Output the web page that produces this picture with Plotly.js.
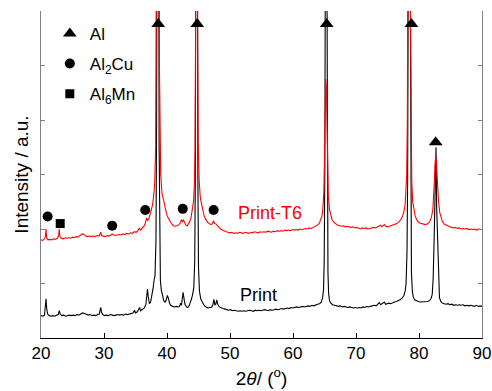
<!DOCTYPE html>
<html>
<head>
<meta charset="utf-8">
<script src="https://cdn.plot.ly/plotly-3.0.1.min.js"></script>
<style>html,body{margin:0;padding:0;background:#fff;}#chart{width:492px;height:391px;}</style>
</head>
<body>
<div id="chart"></div>
<script>
// XRD pattern of "Print" (as-printed)
const printX = [20.0,20.3,20.55,20.7,20.8,20.9,21.05,21.3,21.6,21.9,22.2,22.5,22.75,22.9,23.05,23.3,23.6,23.9,24.2,24.5,24.8,25.1,25.4,25.7,26.0,26.3,26.6,26.9,27.2,27.5,27.8,28.1,28.4,28.7,29.0,29.25,29.4,29.5,29.6,29.8,30.1,30.4,30.7,31.0,31.3,31.6,31.9,32.2,32.5,32.8,33.1,33.4,33.7,34.0,34.3,34.6,34.85,35.0,35.3,35.5,35.65,35.8,36.1,36.4,36.65,36.8,36.9,37.0,37.2,37.4,37.6,37.8,37.95,38.1,38.25,38.35,38.45,38.55,38.65,38.75,38.85,38.95,39.1,39.3,39.5,39.7,39.9,40.05,40.2,40.4,40.6,40.9,41.2,41.5,41.8,42.0,42.15,42.3,42.45,42.55,42.65,42.85,43.1,43.3,43.5,43.7,43.9,44.1,44.25,44.4,44.5,44.6,44.7,44.8,44.9,45.0,45.15,45.35,45.6,45.9,46.2,46.5,46.8,47.1,47.3,47.45,47.6,47.75,47.9,48.05,48.3,48.6,48.9,49.2,49.5,49.8,50.1,50.4,50.7,51.0,51.3,51.6,51.9,52.2,52.5,52.8,53.1,53.4,53.7,54.0,54.3,54.6,54.9,55.2,55.5,55.8,56.1,56.4,56.7,57.0,57.3,57.6,57.9,58.2,58.5,58.8,59.1,59.4,59.7,60.0,60.3,60.6,60.9,61.2,61.5,61.8,62.1,62.4,62.7,63.0,63.3,63.6,63.9,64.2,64.5,64.7,64.85,64.95,65.05,65.15,65.25,65.35,65.45,65.55,65.65,65.8,66.0,66.3,66.6,66.9,67.2,67.5,67.8,68.1,68.4,68.7,69.0,69.3,69.6,69.9,70.2,70.5,70.8,71.1,71.4,71.7,72.0,72.3,72.6,72.9,73.2,73.5,73.7,73.9,74.1,74.3,74.5,74.7,74.9,75.2,75.5,75.8,76.1,76.4,76.7,77.0,77.3,77.6,77.8,77.95,78.1,78.2,78.3,78.4,78.5,78.6,78.7,78.8,78.95,79.1,79.3,79.6,79.9,80.2,80.5,80.8,81.1,81.4,81.7,81.9,82.1,82.25,82.4,82.5,82.6,82.7,82.8,82.9,83.0,83.1,83.25,83.45,83.7,84.0,84.3,84.6,84.9,85.2,85.5,85.8,86.1,86.4,86.7,87.0,87.3,87.6,87.9,88.2,88.5,88.8,89.1,89.4,89.7,90.0];
const printY = [0.41,0.40,0.42,0.55,0.72,0.55,0.44,0.41,0.40,0.41,0.40,0.42,0.43,0.50,0.44,0.41,0.42,0.40,0.41,0.42,0.41,0.42,0.41,0.43,0.42,0.44,0.46,0.45,0.43,0.42,0.43,0.41,0.42,0.41,0.43,0.44,0.52,0.56,0.47,0.43,0.41,0.42,0.41,0.43,0.42,0.41,0.42,0.43,0.42,0.43,0.42,0.44,0.43,0.44,0.45,0.46,0.51,0.46,0.48,0.53,0.56,0.50,0.52,0.55,0.62,0.78,0.90,0.78,0.63,0.66,0.76,0.92,1.06,1.15,1.8,4,10,16,10,3.5,1.6,1.05,0.88,0.74,0.68,0.66,0.70,0.78,0.74,0.64,0.60,0.58,0.57,0.58,0.57,0.58,0.64,0.60,0.70,0.84,0.76,0.62,0.57,0.56,0.59,0.64,0.72,0.82,0.92,1.4,3,9,14,9,3,1.3,0.86,0.72,0.66,0.60,0.57,0.55,0.56,0.57,0.62,0.71,0.61,0.62,0.70,0.62,0.57,0.55,0.54,0.53,0.52,0.51,0.52,0.50,0.51,0.50,0.49,0.50,0.49,0.50,0.49,0.50,0.51,0.50,0.49,0.51,0.50,0.51,0.50,0.51,0.52,0.51,0.50,0.52,0.51,0.52,0.53,0.52,0.53,0.54,0.53,0.54,0.55,0.54,0.56,0.55,0.56,0.57,0.56,0.57,0.58,0.57,0.58,0.59,0.58,0.60,0.59,0.61,0.62,0.63,0.66,0.74,0.9,1.4,3,8,12,8,3,1.2,0.82,0.68,0.64,0.61,0.60,0.59,0.58,0.59,0.57,0.58,0.57,0.56,0.57,0.56,0.55,0.56,0.55,0.56,0.55,0.57,0.56,0.58,0.57,0.58,0.59,0.60,0.59,0.62,0.65,0.61,0.63,0.64,0.66,0.62,0.63,0.64,0.63,0.65,0.66,0.67,0.68,0.70,0.73,0.78,0.86,1.0,1.6,3,7,12,12,7,2.5,1.2,0.85,0.75,0.70,0.68,0.67,0.66,0.66,0.67,0.66,0.67,0.69,0.72,0.80,1.1,1.8,2.6,3.3,3.5,2.4,2.05,1.5,0.95,0.74,0.67,0.64,0.63,0.62,0.63,0.61,0.62,0.60,0.61,0.60,0.61,0.60,0.61,0.59,0.60,0.59,0.60,0.59,0.58,0.60,0.58,0.59,0.58];

// XRD pattern of "Print-T6" (heat treated)
const t6X = [20.0,20.3,20.55,20.7,20.8,20.9,21.1,21.4,21.7,22.0,22.3,22.6,22.8,22.9,23.0,23.2,23.5,23.8,24.1,24.4,24.7,25.0,25.3,25.6,25.9,26.2,26.5,26.8,27.1,27.4,27.7,28.0,28.3,28.6,28.9,29.2,29.4,29.5,29.6,29.9,30.2,30.5,30.8,31.1,31.3,31.5,31.8,32.1,32.4,32.7,33.0,33.3,33.6,33.9,34.2,34.5,34.8,35.1,35.4,35.6,35.8,36.1,36.4,36.6,36.75,36.9,37.1,37.3,37.5,37.7,37.9,38.05,38.2,38.3,38.4,38.5,38.6,38.7,38.8,38.9,39.0,39.2,39.4,39.6,39.8,40.0,40.2,40.4,40.7,41.0,41.3,41.6,41.9,42.1,42.3,42.45,42.6,42.8,43.0,43.2,43.4,43.6,43.8,44.0,44.2,44.35,44.45,44.55,44.65,44.75,44.85,44.95,45.1,45.3,45.5,45.7,45.9,46.1,46.4,46.7,47.0,47.2,47.4,47.55,47.8,48.0,48.2,48.5,48.8,49.1,49.4,49.7,50.0,50.3,50.6,50.9,51.2,51.5,51.8,52.1,52.4,52.7,53.0,53.3,53.6,53.9,54.2,54.5,54.8,55.1,55.4,55.7,56.0,56.3,56.6,56.9,57.2,57.5,57.8,58.1,58.4,58.7,59.0,59.3,59.6,59.9,60.2,60.5,60.8,61.1,61.4,61.7,62.0,62.3,62.6,62.9,63.2,63.5,63.8,64.0,64.2,64.4,64.6,64.75,64.9,65.0,65.1,65.2,65.3,65.4,65.5,65.6,65.8,66.0,66.2,66.5,66.8,67.1,67.4,67.7,68.0,68.3,68.6,68.9,69.2,69.5,69.8,70.1,70.4,70.7,71.0,71.3,71.6,71.9,72.2,72.5,72.8,73.1,73.4,73.7,73.9,74.1,74.3,74.5,74.7,75.0,75.3,75.6,75.9,76.2,76.5,76.8,77.1,77.4,77.6,77.8,77.95,78.05,78.15,78.25,78.35,78.45,78.55,78.65,78.75,78.85,79.0,79.2,79.4,79.6,79.8,80.1,80.4,80.7,81.0,81.3,81.6,81.8,82.0,82.2,82.35,82.45,82.55,82.65,82.75,82.85,82.95,83.1,83.3,83.5,83.7,84.0,84.3,84.6,84.9,85.2,85.5,85.8,86.1,86.4,86.7,87.0,87.3,87.6,87.9,88.2,88.5,88.8,89.1,89.4,89.7,90.0];
const t6Y = [1.80,1.79,1.82,1.86,2.00,1.84,1.80,1.81,1.80,1.82,1.81,1.83,1.88,2.00,1.86,1.83,1.82,1.84,1.83,1.84,1.83,1.85,1.84,1.86,1.85,1.88,1.91,1.90,1.87,1.86,1.87,1.86,1.87,1.86,1.88,1.87,1.92,1.94,1.88,1.87,1.86,1.88,1.87,1.89,1.91,1.89,1.88,1.89,1.90,1.89,1.91,1.90,1.92,1.91,1.93,1.92,1.95,1.94,1.97,2.02,1.98,2.02,2.06,2.12,2.20,2.16,2.18,2.26,2.34,2.44,2.62,2.85,3.5,5,9,16,16,9,5,3.6,3.0,2.66,2.54,2.42,2.32,2.25,2.20,2.15,2.10,2.06,2.05,2.06,2.08,2.11,2.17,2.14,2.17,2.12,2.07,2.06,2.09,2.13,2.20,2.32,2.50,2.80,3.5,6,14,14,6,3.6,2.9,2.56,2.45,2.32,2.24,2.19,2.13,2.10,2.08,2.10,2.15,2.10,2.09,2.06,2.03,2.00,1.98,1.96,1.95,1.94,1.93,1.94,1.92,1.93,1.92,1.94,1.93,1.92,1.94,1.93,1.92,1.94,1.93,1.95,1.94,1.93,1.95,1.94,1.95,1.94,1.96,1.95,1.94,1.96,1.95,1.97,1.96,1.97,1.96,1.98,1.97,1.98,1.97,1.99,1.98,1.99,1.98,2.00,1.99,2.00,2.01,2.00,2.02,2.01,2.03,2.04,2.06,2.08,2.11,2.16,2.24,2.38,2.7,3.3,4.3,4.75,4.6,3.6,2.9,2.6,2.36,2.24,2.17,2.12,2.09,2.07,2.06,2.05,2.06,2.04,2.05,2.04,2.03,2.04,2.02,2.03,2.01,2.00,2.02,2.01,2.02,2.00,2.01,2.02,2.03,2.02,2.04,2.05,2.07,2.04,2.06,2.08,2.05,2.04,2.05,2.06,2.07,2.08,2.10,2.13,2.17,2.24,2.32,2.45,2.7,3.0,4,7,12,14,12,6,3.5,2.9,2.5,2.34,2.24,2.18,2.14,2.11,2.10,2.09,2.08,2.09,2.12,2.16,2.23,2.36,2.6,2.9,3.2,3.33,3.25,3.0,2.75,2.5,2.3,2.2,2.14,2.09,2.07,2.05,2.04,2.03,2.02,2.03,2.01,2.02,2.00,2.01,2.00,2.01,1.99,2.00,1.99,2.00,1.98,2.00,1.99,1.99];

// Phase identification markers
const alX = [38.6, 44.8, 65.35, 78.8, 82.65];
const alY = [5.76, 5.76, 5.76, 5.76, 3.59];
const al2cuX = [21.05, 31.3, 36.55, 42.5, 47.4];
const al2cuY = [2.23, 2.06, 2.35, 2.37, 2.35];
const al6mnX = [23.05];
const al6mnY = [2.10];

const xTicks = [20, 30, 40, 50, 60, 70, 80, 90];
const seriesNames = ['Print', 'Print-T6'];
const phaseNames = ['Al', 'Al<sub>2</sub>Cu', 'Al<sub>6</sub>Mn'];
const labelPos = {print: [54.6, 0.78], t6: [56.4, 2.30]};

const FONT = 'Liberation Sans, Arial, sans-serif';

const traces = [
  {x: printX, y: printY, mode: 'lines', name: seriesNames[0], showlegend: false,
   line: {color: '#000000', width: 1.1}},
  {x: t6X, y: t6Y, mode: 'lines', name: seriesNames[1], showlegend: false,
   line: {color: '#ff0000', width: 1.1}},
  {x: alX, y: alY, mode: 'markers', name: phaseNames[0], legendgroup: 'a',
   marker: {symbol: 'triangle-up', size: 12, color: '#000'}},
  {x: al2cuX, y: al2cuY, mode: 'markers', name: phaseNames[1], legendgroup: 'b',
   marker: {symbol: 'circle', size: 10, color: '#000'}},
  {x: al6mnX, y: al6mnY, mode: 'markers', name: phaseNames[2], legendgroup: 'c',
   marker: {symbol: 'square', size: 9, color: '#000'}}
];

const layout = {
  width: 492, height: 391,
  margin: {l: 41, r: 10, t: 11, b: 53},
  paper_bgcolor: '#fff', plot_bgcolor: '#fff',
  font: {family: FONT, size: 17, color: '#000'},
  showlegend: true,
  legend: {x: 0.02, y: 0.985, xanchor: 'left', yanchor: 'top',
           bgcolor: 'rgba(0,0,0,0)', font: {size: 17, family: FONT},
           traceorder: 'grouped', tracegroupgap: 5},
  xaxis: {
    range: [20, 90], tickvals: xTicks, ticks: 'inside', ticklen: 5, tickcolor: '#000',
    showline: true, linecolor: '#000', linewidth: 1, mirror: false,
    showgrid: false, zeroline: false,
    tickfont: {size: 17, family: FONT},
    title: {text: '2<i>θ</i>/ (<sup>o</sup>)', font: {size: 19, family: FONT}, standoff: 9}
  },
  xaxis2: {
    range: [20, 90], overlaying: 'x', side: 'top', anchor: 'y', dtick: 5,
    ticks: 'inside', ticklen: 3, tickcolor: '#666', showticklabels: false,
    showline: true, linecolor: '#666', linewidth: 1, showgrid: false, zeroline: false
  },
  yaxis: {
    range: [0, 6], dtick: 1, ticks: 'inside', ticklen: 4, tickcolor: '#808080',
    showticklabels: false, showline: true, linecolor: '#808080', linewidth: 1.3,
    mirror: 'ticks', showgrid: false, zeroline: false,
    title: {text: 'Intensity / a.u.', font: {size: 19, family: FONT}, standoff: 6}
  },
  annotations: [
    {x: labelPos.t6[0], y: labelPos.t6[1], xref: 'x', yref: 'y', text: seriesNames[1],
     showarrow: false, font: {size: 18, color: '#ff0000', family: FONT}},
    {x: labelPos.print[0], y: labelPos.print[1], xref: 'x', yref: 'y', text: seriesNames[0],
     showarrow: false, font: {size: 18, color: '#000', family: FONT}}
  ]
};

Plotly.newPlot('chart', traces, layout, {displayModeBar: false, staticPlot: true});
</script>
</body>
</html>
